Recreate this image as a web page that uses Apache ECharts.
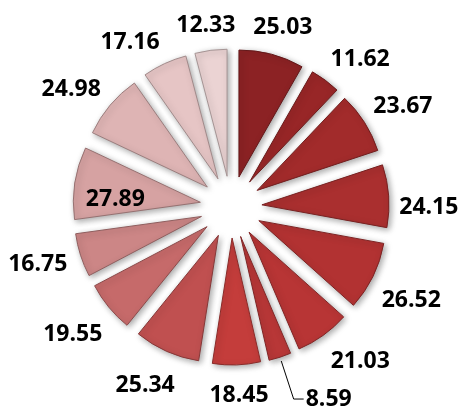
<!DOCTYPE html>
<html>
<head>
<meta charset="utf-8">
<script src="https://cdn.jsdelivr.net/npm/echarts@6/dist/echarts.min.js"></script>
<style>
  html, body { margin: 0; padding: 0; background: #fff; }
  #main { width: 459px; height: 410px; }
</style>
</head>
<body>
<div id="main"></div>
<script>
var values = [25.03, 11.62, 23.67, 24.15, 26.52, 21.03, 8.59, 18.45, 25.34, 19.55, 16.75, 27.89, 24.98, 17.16, 12.33];
var colors = ['#8c2224', '#982627', '#a22b2b', '#aa2f2f', '#b23232', '#b83535', '#b83737', '#c43d3b',
              '#c05050', '#c66a6a', '#cc8686', '#d6a2a2', '#deb4b4', '#e6c5c5', '#ebd3d3'];
// small angular shifts (degrees) so labels don't crowd, like the original's best-fit placement
var labelTurn = [1.5, 5.5, 2.5, 5, 1.5, -5, 0, -0.5, 2, 0.7, 1.3, -7, -4.5, -8, -0.7];

var CX = 231, CY = 207, R = 127, OFF = 31;

function darker(hex, k) {
    var r = parseInt(hex.substr(1, 2), 16), g = parseInt(hex.substr(3, 2), 16), b = parseInt(hex.substr(5, 2), 16);
    return 'rgb(' + Math.round(r * k) + ',' + Math.round(g * k) + ',' + Math.round(b * k) + ')';
}

var total = 0;
for (var i = 0; i < values.length; i++) total += values[i];

// mid angle of each slice, clockwise from 12 o'clock
function midAngle(idx) {
    var acc = 0;
    for (var j = 0; j < idx; j++) acc += values[j];
    return (acc + values[idx] / 2) / total * Math.PI * 2;
}

var pieData = [], labelData = [];
for (var i = 0; i < values.length; i++) {
    pieData.push({
        value: values[i],
        name: 's' + i,
        selected: true,
        itemStyle: {
            color: colors[i],
            borderColor: darker(colors[i], 0.7),
            borderWidth: 1
        }
    });
    var lab = { value: values[i], name: 's' + i };
    if (values[i] == 8.59) {
        lab.labelLine = { show: true, lineStyle: { color: '#000', width: 1 } };
    }
    labelData.push(lab);
}

var myChart = echarts.init(document.getElementById('main'));

var option = {
    animation: false,
    series: [{
        type: 'pie',
        center: [CX, CY],
        radius: [0, R],
        startAngle: 90,
        clockwise: true,
        selectedMode: 'multiple',
        selectedOffset: OFF,
        data: pieData,
        itemStyle: {
            shadowBlur: 6,
            shadowColor: 'rgba(0,0,0,0.35)',
            shadowOffsetX: 2,
            shadowOffsetY: 2
        },
        label: { show: false },
        labelLine: { show: false },
        emphasis: { disabled: true }
    }, {
        // transparent copy that only carries the labels
        type: 'pie',
        center: [CX, CY],
        radius: [0, R + OFF],
        startAngle: 90,
        clockwise: true,
        silent: true,
        avoidLabelOverlap: false,
        data: labelData,
        itemStyle: { color: 'rgba(0,0,0,0)' },
        label: {
            show: true,
            position: 'outside',
            formatter: '{c}',
            color: '#000',
            fontFamily: 'Open Sans',
            fontWeight: 'bold',
            fontSize: 23
        },
        labelLine: { show: false, length: 10, length2: 0 },
        labelLayout: function (p) {
            var a0 = midAngle(p.dataIndex);
            var ax = CX + OFF * Math.sin(a0), ay = CY - OFF * Math.cos(a0);
            var a = a0 + labelTurn[p.dataIndex] * Math.PI / 180;
            var sx = Math.sin(a), sy = -Math.cos(a);
            var hw = p.labelRect.width / 2;
            var v = values[p.dataIndex];
            if (v == 27.89) {
                var d = R * 0.67;
                return { x: ax + d * sx, y: ay + d * sy, align: 'center', verticalAlign: 'middle' };
            }
            if (v == 8.59) {
                var ox = ax + R * Math.sin(a0), oy = ay - R * Math.cos(a0);
                var p1 = [ox + 4 * sx, oy + 4 * sy];
                var p2 = [ox + 44 * sx, oy + 44 * sy];
                var p3 = [p2[0] + 10, p2[1]];
                return { x: p3[0] + 2, y: p3[1], align: 'left', verticalAlign: 'middle',
                         labelLinePoints: [p1, p2, p3] };
            }
            var dist = R + 10 + hw * Math.abs(sx) + 11 * Math.abs(sy) + 8 * Math.max(sy, 0);
            return { x: ax + dist * sx, y: ay + dist * sy, align: 'center', verticalAlign: 'middle' };
        },
        emphasis: { disabled: true }
    }]
};

myChart.setOption(option);
</script>
</body>
</html>
